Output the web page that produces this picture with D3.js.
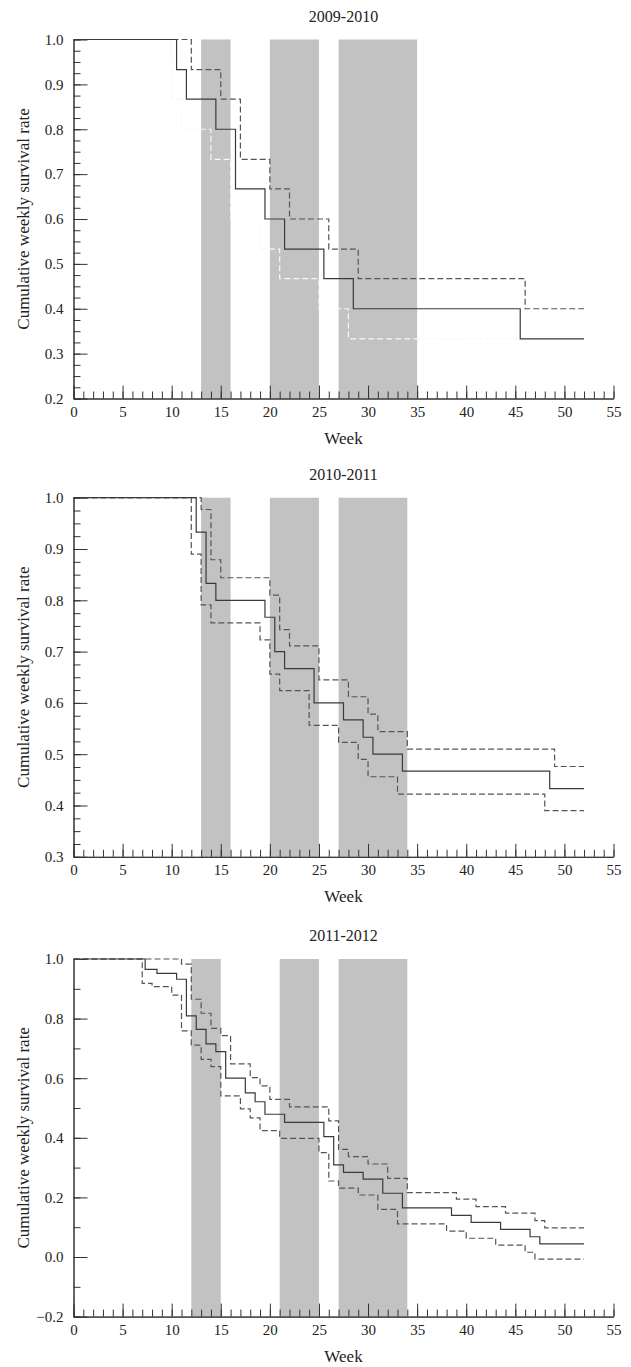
<!DOCTYPE html>
<html>
<head>
<meta charset="utf-8">
<script src="https://cdn.jsdelivr.net/npm/d3@7"></script>
<style>
body { margin: 0; background: #fff; }
text { font-family: "Liberation Serif", "Times New Roman", serif; fill: #222; }
</style>
</head>
<body>
<svg width="631" height="1367"></svg>
<script>
// season titles and x ticks
var titles = ["2009-2010", "2010-2011", "2011-2012"];
var xTicks = d3.range(0, 56, 5);
var yDomains = [[0.2, 1.0], [0.3, 1.0], [-0.2, 1.0]];

// shaded periods (weeks)
var shade0910 = [[13, 16], [20, 25], [27, 35]];
var shade1011 = [[13, 16], [20, 25], [27, 34]];
var shade1112 = [[12, 15], [21, 25], [27, 34]];

// survival curves: [week, rate]
var surv0910 = [[0, 1], [10.5, 0.933], [11.5, 0.867], [14.5, 0.8], [16.5, 0.667], [19.5, 0.6],
    [21.5, 0.533], [25.5, 0.467], [28.5, 0.4], [45.5, 0.333], [52, 0.333]];
var upper0910 = [[0, 1], [12, 0.933], [15, 0.867], [17, 0.733], [20, 0.667], [22, 0.6],
    [26, 0.533], [29, 0.467], [46, 0.4], [52, 0.4]];
var lower0910 = [[0, 1], [10, 0.867], [11, 0.8], [14, 0.733], [16, 0.6], [19, 0.533],
    [21, 0.467], [25, 0.4], [28, 0.333], [52, 0.333]];

var surv1011 = [[0, 1], [12.5, 0.933], [13.5, 0.833], [14.5, 0.8], [19.5, 0.767], [20.5, 0.7],
    [21.5, 0.667], [24.5, 0.6], [27.5, 0.567], [29.5, 0.533], [30.5, 0.5], [33.5, 0.467],
    [48.5, 0.433], [52, 0.433]];
var upper1011 = [[0, 1], [13, 0.977], [14, 0.879], [15, 0.844], [20, 0.81], [21, 0.743],
    [22, 0.711], [25, 0.645], [28, 0.612], [30, 0.578], [31, 0.544], [34, 0.51],
    [49, 0.476], [52, 0.476]];
var lower1011 = [[0, 1], [12, 0.89], [13, 0.791], [14, 0.756], [19, 0.723], [20, 0.656],
    [21, 0.624], [24, 0.556], [27, 0.523], [29, 0.49], [30, 0.456], [33, 0.422],
    [48, 0.39], [52, 0.39]];

var surv1112 = [[0, 1], [7.3, 0.965], [8.5, 0.952], [10.5, 0.932], [11.5, 0.809], [12.5, 0.764],
    [13.5, 0.715], [14.5, 0.689], [15.5, 0.6], [17.5, 0.551], [18.5, 0.521], [19.5, 0.479],
    [21.5, 0.452], [25.5, 0.404], [26.5, 0.309], [27.5, 0.284], [29.5, 0.261], [31.5, 0.214],
    [33.5, 0.165], [38.5, 0.14], [40.5, 0.116], [43.5, 0.093], [46.5, 0.068], [47.5, 0.044],
    [52, 0.044]];
var upper1112 = [[0, 1], [11, 0.983], [12, 0.865], [13, 0.818], [14, 0.767], [15, 0.743],
    [16, 0.648], [18, 0.602], [19, 0.574], [20, 0.529], [22, 0.504], [26, 0.457], [27, 0.361],
    [28, 0.337], [30, 0.312], [32, 0.264], [34, 0.216], [39, 0.194], [41, 0.169], [44, 0.147],
    [47, 0.122], [48, 0.098], [52, 0.098]];
var lower1112 = [[0, 1], [7, 0.918], [8, 0.907], [10, 0.879], [11, 0.759], [12, 0.711],
    [13, 0.663], [14, 0.639], [15, 0.541], [17, 0.497], [18, 0.467], [19, 0.424], [21, 0.398],
    [25, 0.35], [26, 0.255], [27, 0.231], [29, 0.208], [31, 0.16], [33, 0.111], [38, 0.087],
    [40, 0.063], [43, 0.04], [46, 0.016], [47, -0.007], [52, -0.007]];

var panels = [
    {title: titles[0], yDomain: yDomains[0], shade: shade0910, surv: surv0910, upper: upper0910, lower: lower0910,
        top: 39.5, bottom: 398.5, major: 0.1, minor: 0.025, lightLower: true},
    {title: titles[1], yDomain: yDomains[1], shade: shade1011, surv: surv1011, upper: upper1011, lower: lower1011,
        top: 497.7, bottom: 856.8, major: 0.1, minor: 0.025, lightLower: false},
    {title: titles[2], yDomain: yDomains[2], shade: shade1112, surv: surv1112, upper: upper1112, lower: lower1112,
        top: 959, bottom: 1316.6, major: 0.2, minor: 0.1, lightLower: false}
];

var svg = d3.select("svg");
var left = 73.5, right = 613.5;
var x = d3.scaleLinear().domain([0, 55]).range([left, right]);

panels.forEach(function (p) {
    var y = d3.scaleLinear().domain(p.yDomain).range([p.bottom, p.top]);
    var g = svg.append("g");

    g.selectAll(".shade")
        .data(p.shade)
        .enter().append("rect")
        .attr("class", "shade")
        .attr("x", function (d) { return x(d[0]); })
        .attr("width", function (d) { return x(d[1]) - x(d[0]); })
        .attr("y", p.top)
        .attr("height", p.bottom - p.top)
        .style("fill", "#c2c2c2");

    // axes: minor ticks, then major ticks with labels
    var yMin = p.yDomain[0], yMax = p.yDomain[1];
    var minorY = d3.range(Math.round((yMax - yMin) / p.minor) + 1).map(function (i) { return yMin + i * p.minor; });
    var majorY = d3.range(Math.round((yMax - yMin) / p.major) + 1).map(function (i) { return yMin + i * p.major; });

    g.append("g")
        .attr("transform", "translate(0," + p.bottom + ")")
        .call(d3.axisBottom(x).tickValues(d3.range(0, 56)).tickSizeInner(-7).tickSizeOuter(0).tickFormat(""));
    g.append("g")
        .attr("transform", "translate(0," + p.bottom + ")")
        .call(d3.axisBottom(x).tickValues(xTicks).tickSizeInner(-13).tickSizeOuter(0).tickPadding(8))
        .selectAll("text").style("font-size", "15px");

    g.append("g")
        .attr("transform", "translate(" + left + ",0)")
        .call(d3.axisLeft(y).tickValues(minorY).tickSizeInner(-7).tickSizeOuter(0).tickFormat(""));
    g.append("g")
        .attr("transform", "translate(" + left + ",0)")
        .call(d3.axisLeft(y).tickValues(majorY).tickSizeInner(-14).tickSizeOuter(0).tickPadding(10).tickFormat(d3.format(".1f")))
        .selectAll("text").style("font-size", "15px");

    g.selectAll(".domain, .tick line").style("stroke", "#333").style("stroke-width", 1);
    g.selectAll(".tick text").style("fill", "#222").style("font-family", "'Liberation Serif', serif");

    var line = d3.line()
        .x(function (d) { return x(d[0]); })
        .y(function (d) { return y(d[1]); })
        .curve(d3.curveStepAfter);

    g.append("path").datum(p.lower).attr("d", line)
        .style("fill", "none")
        .style("stroke", p.lightLower ? "#f8f8f8" : "#555")
        .style("stroke-width", 1.2)
        .style("stroke-dasharray", "6,3");
    g.append("path").datum(p.upper).attr("d", line)
        .style("fill", "none").style("stroke", "#555").style("stroke-width", 1.2)
        .style("stroke-dasharray", "6,3");
    g.append("path").datum(p.surv).attr("d", line)
        .style("fill", "none").style("stroke", "#3a3a3a").style("stroke-width", 1.2);

    g.append("text")
        .attr("x", (left + right) / 2).attr("y", p.top - 18)
        .attr("text-anchor", "middle").style("font-size", "16px")
        .text(p.title);
    g.append("text")
        .attr("x", (left + right) / 2).attr("y", p.bottom + 45)
        .attr("text-anchor", "middle").style("font-size", "17px")
        .text("Week");
    g.append("text")
        .attr("transform", "translate(29," + (p.top + p.bottom) / 2 + ") rotate(-90)")
        .attr("text-anchor", "middle").style("font-size", "17px")
        .text("Cumulative weekly survival rate");
});
</script>
</body>
</html>
